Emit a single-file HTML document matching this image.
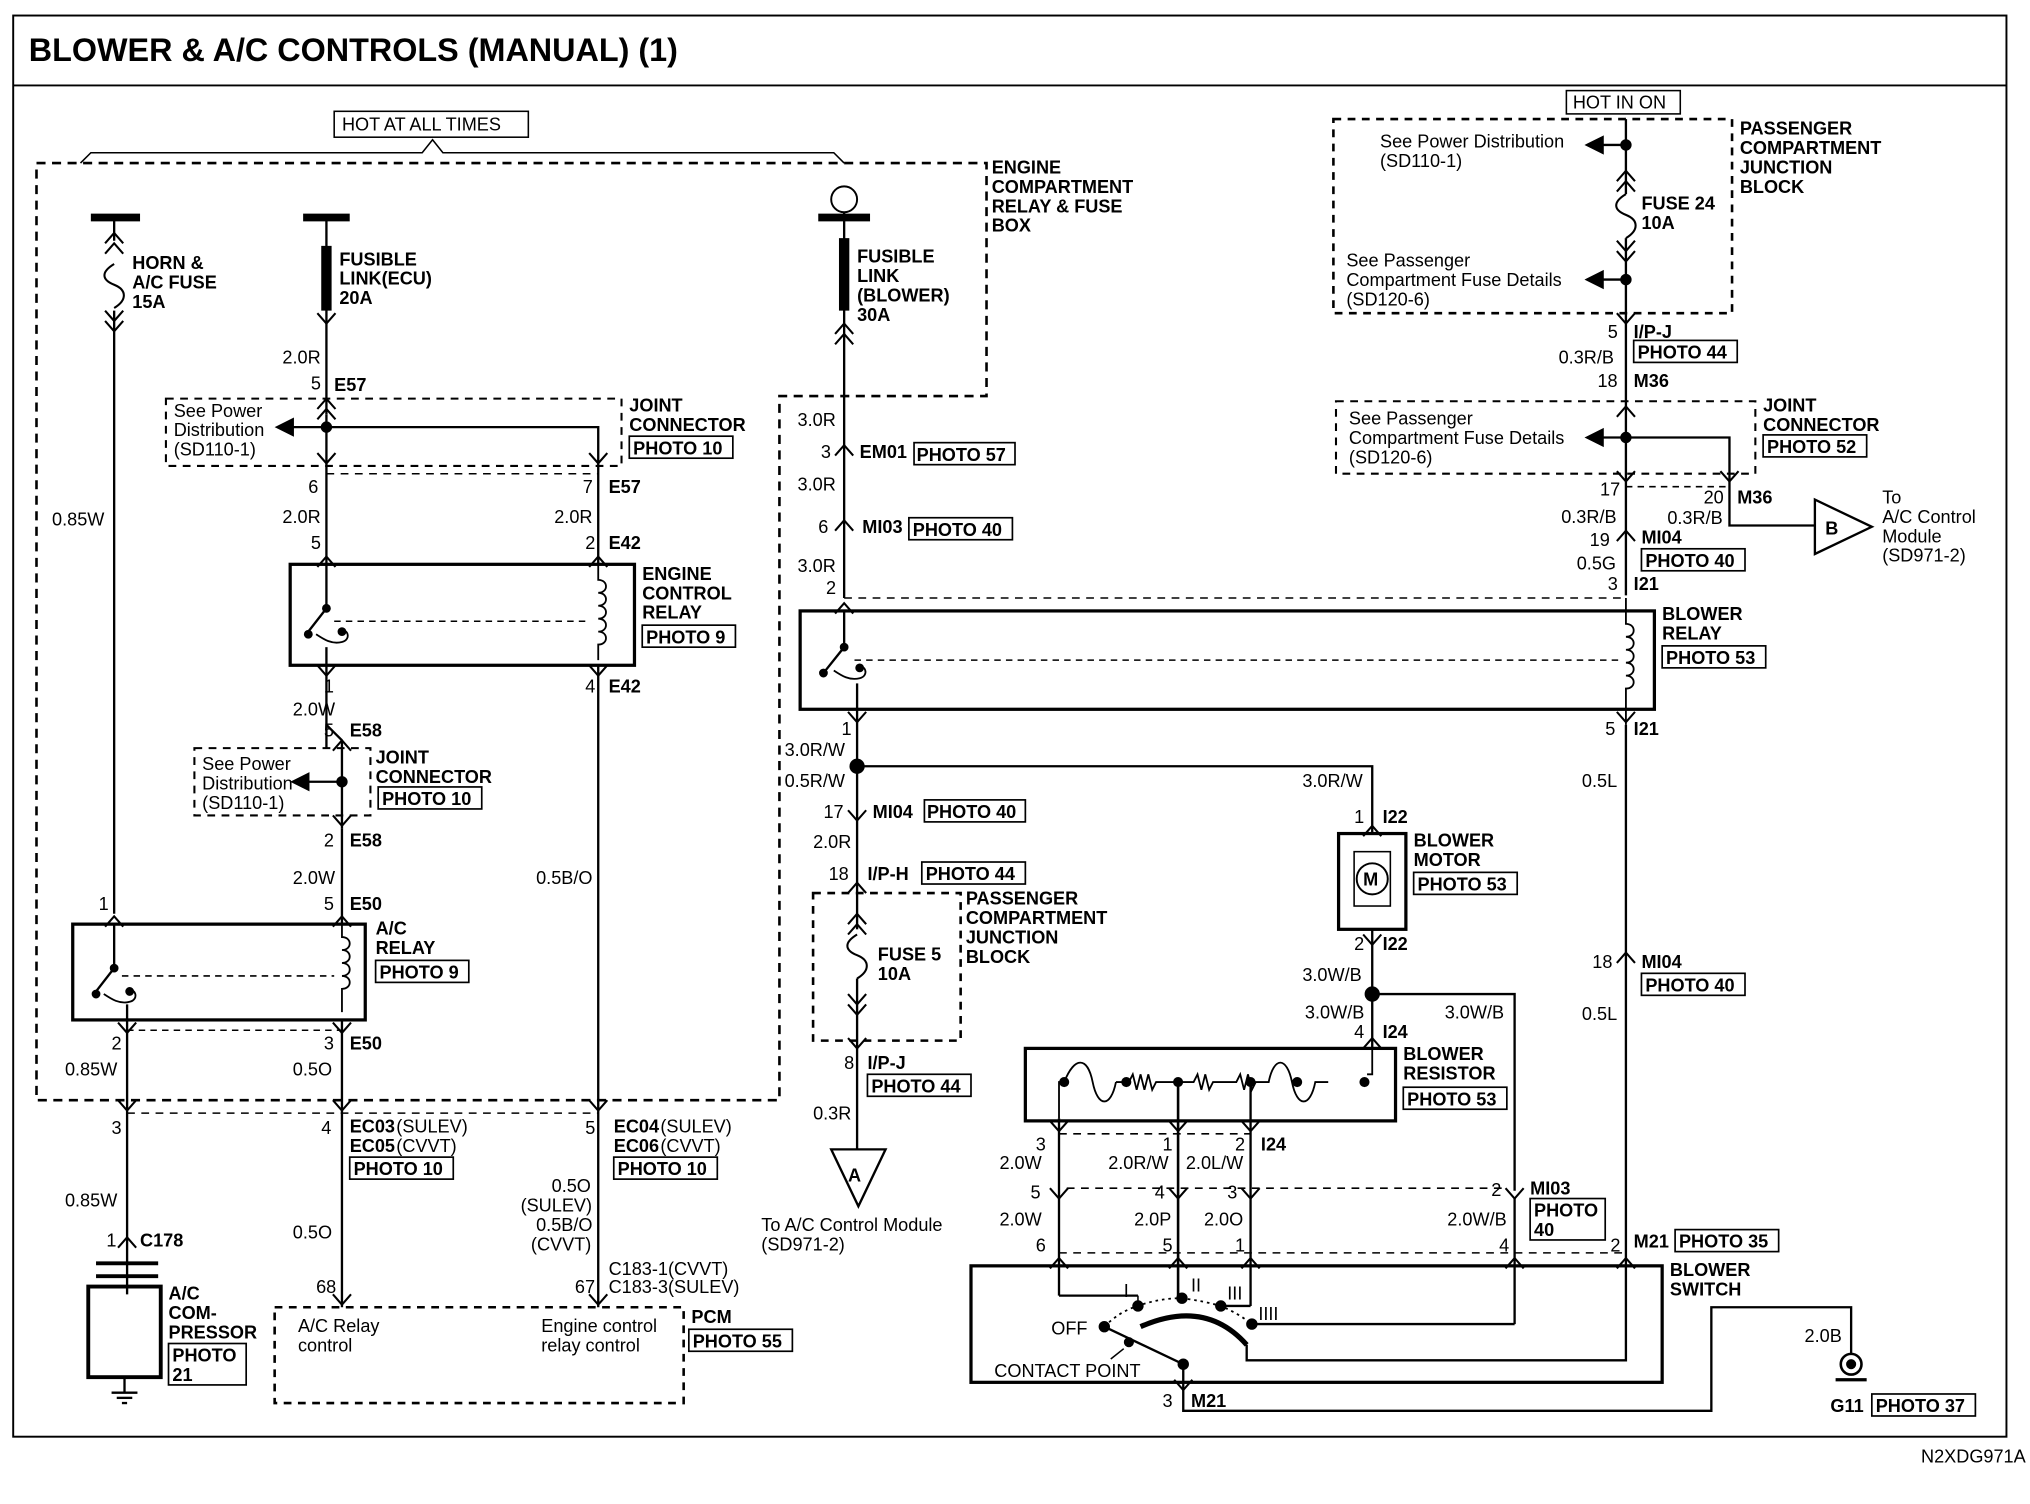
<!DOCTYPE html>
<html><head><meta charset="utf-8"><style>
html,body{margin:0;padding:0;background:#fff}
svg{display:block}
text{font-family:"Liberation Sans",Arial,sans-serif;font-size:14px;fill:#000}
.b{font-weight:bold}
.t{font-size:25px;font-weight:bold}
</style></head><body>
<svg width="2030" height="1504" viewBox="0 0 1568 1162" xmlns="http://www.w3.org/2000/svg">
<defs>
<path id="v" d="M-7,-8 L0,0 L7,-8" fill="none" stroke="#000" stroke-width="1.6"/>
<path id="a" d="M-7,8 L0,0 L7,8" fill="none" stroke="#000" stroke-width="1.6"/>
<path id="fz" d="M0,0 c-10,6 -10,12 0,16 c10,4 10,12 0,18" fill="none" stroke="#000" stroke-width="1.6"/>
</defs>
<g fill="none" stroke="#000" stroke-width="1.8">
<rect x="10" y="12" width="1540" height="1098" stroke-width="1.5"/>
<line x1="10" y1="66" x2="1550" y2="66" stroke-width="1.5"/>
<polyline points="62,126 70,118 326,118 334,108 342,118 644,118 652,126" stroke-width="1.2"/>
<polyline points="28,126 762,126 762,306 602,306 602,850 28,850 28,126" stroke-dasharray="7,5" stroke-width="2"/>
<line x1="70" y1="168" x2="108" y2="168" stroke-width="6"/>
<line x1="88" y1="168" x2="88" y2="186"/>
<use href="#a" x="88" y="180"/><use href="#a" x="88" y="188"/>
<use href="#fz" x="88" y="204"/>
<use href="#v" x="88" y="248"/><use href="#v" x="88" y="256"/>
<line x1="88" y1="240" x2="88" y2="706"/>
<line x1="234" y1="168" x2="270" y2="168" stroke-width="6"/>
<line x1="252" y1="168" x2="252" y2="320"/>
<line x1="252" y1="190" x2="252" y2="240" stroke-width="8"/>
<use href="#v" x="252" y="250"/>
<use href="#a" x="252" y="308"/><use href="#a" x="252" y="316"/>
<rect x="128" y="308" width="352" height="52" stroke-dasharray="6,5" stroke-width="1.6"/>
<polyline points="252,320 252,360"/>
<polyline points="222,330 462,330 462,360"/>
<polygon points="214,330 226,324 226,336" fill="#000"/>
<circle cx="252" cy="330" r="3.5" fill="#000"/>
<use href="#v" x="252" y="358"/><use href="#v" x="462" y="358"/>
<line x1="252" y1="366" x2="462" y2="366" stroke-dasharray="6,5" stroke-width="1.2"/>
<line x1="252" y1="360" x2="252" y2="436"/><line x1="462" y1="360" x2="462" y2="436"/>
<use href="#a" x="252" y="430"/><use href="#a" x="462" y="430"/>
<rect x="224" y="436" width="266" height="78" stroke-width="2.5"/>
<polyline points="252,436 252,470 238,488"/>
<path d="M262,488 c6,-4 10,6 2,8 c-8,2 -14,-2 -20,-6" stroke-width="1.4"/>
<circle cx="252" cy="470" r="2.5" fill="#000"/><circle cx="238" cy="490" r="2.5" fill="#000"/><circle cx="264" cy="488" r="2.5" fill="#000"/>
<line x1="258" y1="480" x2="456" y2="480" stroke-dasharray="5,4" stroke-width="1.2"/>
<path d="M462,436 v12 c8,0 8,10 0,10 c8,0 8,10 0,10 c8,0 8,10 0,10 c8,0 8,10 0,10 c8,0 8,10 0,10 v12" stroke-width="1.4"/>
<line x1="252" y1="500" x2="252" y2="514"/>
<use href="#v" x="252" y="522"/><use href="#v" x="462" y="522"/>
<line x1="252" y1="514" x2="252" y2="578"/>
<line x1="462" y1="514" x2="462" y2="850"/>
<use href="#a" x="264" y="572"/>
<rect x="150" y="578" width="136" height="52" stroke-dasharray="6,5" stroke-width="1.6"/>
<polyline points="264,572 264,640"/>
<line x1="236" y1="604" x2="264" y2="604"/>
<polygon points="226,604 238,598 238,610" fill="#000"/>
<circle cx="264" cy="604" r="3.5" fill="#000"/>
<use href="#v" x="264" y="638"/>
<line x1="252" y1="560" x2="264" y2="572"/>
<line x1="264" y1="640" x2="264" y2="714"/>
<use href="#a" x="264" y="708"/><use href="#a" x="88" y="708"/>
<rect x="56" y="714" width="226" height="74" stroke-width="2.5"/>
<polyline points="88,714 88,748 74,766"/>
<path d="M98,766 c6,-4 10,6 2,8 c-8,2 -14,-2 -20,-6" stroke-width="1.4"/>
<circle cx="88" cy="748" r="2.5" fill="#000"/><circle cx="74" cy="768" r="2.5" fill="#000"/><circle cx="100" cy="766" r="2.5" fill="#000"/>
<line x1="94" y1="754" x2="258" y2="754" stroke-dasharray="5,4" stroke-width="1.2"/>
<path d="M264,714 v10 c8,0 8,10 0,10 c8,0 8,10 0,10 c8,0 8,10 0,10 c8,0 8,10 0,10 v18" stroke-width="1.4"/>
<line x1="98" y1="776" x2="98" y2="1000"/>
<line x1="264" y1="788" x2="264" y2="1010"/>
<use href="#v" x="98" y="798"/><use href="#v" x="264" y="798"/>
<line x1="98" y1="796" x2="264" y2="796" stroke-dasharray="5,4" stroke-width="1.2"/>
<use href="#v" x="98" y="858"/><use href="#v" x="264" y="858"/><use href="#v" x="462" y="858"/>
<line x1="98" y1="860" x2="462" y2="860" stroke-dasharray="6,5" stroke-width="1.2"/>
<line x1="462" y1="850" x2="462" y2="1010"/>
<use href="#a" x="98" y="956"/>
<use href="#v" x="264" y="1008"/><use href="#v" x="462" y="1008"/>
<line x1="74" y1="976" x2="122" y2="976" stroke-width="3"/>
<line x1="74" y1="986" x2="122" y2="986" stroke-width="3"/>
<rect x="68" y="994" width="56" height="70" stroke-width="3"/>
<line x1="96" y1="1064" x2="96" y2="1076"/>
<line x1="86" y1="1076" x2="106" y2="1076"/><line x1="90" y1="1080" x2="102" y2="1080"/><line x1="94" y1="1084" x2="98" y2="1084"/>
<rect x="212" y="1010" width="316" height="74" stroke-dasharray="6,5" stroke-width="2"/>

<circle cx="652" cy="154" r="10" stroke-width="1.5"/>
<line x1="632" y1="168" x2="672" y2="168" stroke-width="6"/>
<line x1="652" y1="164" x2="652" y2="462"/>
<line x1="652" y1="184" x2="652" y2="240" stroke-width="8"/>
<use href="#a" x="652" y="250"/><use href="#a" x="652" y="258"/>
<use href="#a" x="652" y="344"/><use href="#a" x="652" y="402"/>
<use href="#a" x="652" y="466"/>
<line x1="652" y1="462" x2="1256" y2="462" stroke-dasharray="6,5" stroke-width="1.2"/>
<rect x="618" y="472" width="660" height="76" stroke-width="2.5"/>
<polyline points="652,472 652,500 636,520"/>
<path d="M662,516 c6,-4 10,6 2,8 c-8,2 -14,-2 -20,-6" stroke-width="1.4"/>
<circle cx="652" cy="500" r="2.5" fill="#000"/><circle cx="636" cy="520" r="2.5" fill="#000"/><circle cx="664" cy="516" r="2.5" fill="#000"/>
<line x1="660" y1="510" x2="1250" y2="510" stroke-dasharray="5,4" stroke-width="1.2"/>
<path d="M1256,462 v20 c8,0 8,10 0,10 c8,0 8,10 0,10 c8,0 8,10 0,10 c8,0 8,10 0,10 c8,0 8,10 0,10 v28" stroke-width="1.4"/>
<line x1="662" y1="528" x2="662" y2="548"/>
<use href="#v" x="662" y="558"/><use href="#v" x="1256" y="558"/>
<line x1="662" y1="548" x2="662" y2="690"/>
<polyline points="662,592 1060,592 1060,644"/>
<circle cx="662" cy="592" r="5" fill="#000"/>
<use href="#v" x="662" y="634"/><use href="#a" x="662" y="682"/>
<rect x="628" y="690" width="114" height="114" stroke-dasharray="6,5" stroke-width="2"/>
<line x1="662" y1="690" x2="662" y2="718"/>
<use href="#a" x="662" y="706"/><use href="#a" x="662" y="714"/>
<use href="#fz" x="662" y="722"/>
<line x1="662" y1="756" x2="662" y2="888"/>
<use href="#v" x="662" y="776"/><use href="#v" x="662" y="784"/>
<use href="#v" x="662" y="810"/>
<polygon points="642,888 684,888 663,932" stroke-width="1.8"/>
<use href="#a" x="1060" y="638"/>
<rect x="1034" y="644" width="52" height="74" stroke-width="2.5"/>
<rect x="1046" y="658" width="28" height="42" stroke-width="1.2"/>
<circle cx="1060" cy="679" r="12" stroke-width="1.5"/>
<line x1="1060" y1="718" x2="1060" y2="810"/>
<use href="#v" x="1060" y="730"/>
<polyline points="1060,768 1170,768 1170,920"/>
<circle cx="1060" cy="768" r="5" fill="#000"/>
<use href="#a" x="1060" y="802"/>
<rect x="792" y="810" width="286" height="56" stroke-width="2.5"/>
<path d="M1060,810 v20 h-4 M818,864 v-28 h4 M822,836 c8,-20 18,-20 22,0 c4,20 14,20 18,0 M862,836 h10 l3,-6 l3,12 l3,-12 l3,12 l3,-12 l3,12 l3,-6 h29 l3,-6 l3,12 l3,-12 l3,12 l3,-6 h18 l3,-6 l3,12 l3,-12 l3,12 l3,-6 h10 c4,-20 14,-20 18,0 c4,20 14,20 18,0 h10" stroke-width="1.4"/>
<circle cx="822" cy="836" r="3" fill="#000"/><circle cx="870" cy="836" r="3" fill="#000"/><circle cx="910" cy="836" r="3" fill="#000"/><circle cx="966" cy="836" r="3" fill="#000"/><circle cx="1002" cy="836" r="3" fill="#000"/><circle cx="1054" cy="836" r="3" fill="#000"/>
<line x1="910" y1="836" x2="910" y2="1003" stroke-width="2"/>
<line x1="966" y1="836" x2="966" y2="1009"/>
<line x1="818" y1="864" x2="818" y2="1001"/>
<use href="#v" x="818" y="874"/><use href="#v" x="910" y="874"/><use href="#v" x="966" y="874"/>
<line x1="818" y1="876" x2="966" y2="876" stroke-dasharray="6,5" stroke-width="1.2"/>
<use href="#v" x="818" y="926"/><use href="#v" x="910" y="926"/><use href="#v" x="966" y="926"/><use href="#v" x="1170" y="926"/>
<line x1="824" y1="918" x2="1164" y2="918" stroke-dasharray="6,5" stroke-width="1.2"/>
<line x1="1170" y1="926" x2="1170" y2="1023"/>
<line x1="818" y1="968" x2="1256" y2="968" stroke-dasharray="6,5" stroke-width="1.2"/>
<use href="#a" x="818" y="972"/><use href="#a" x="910" y="972"/><use href="#a" x="966" y="972"/><use href="#a" x="1170" y="972"/><use href="#a" x="1256" y="972"/>
<!-- blower switch -->
<rect x="750" y="978" width="534" height="90" stroke-width="2.5"/>
<polyline points="818,1001 879,1001"/>
<polyline points="966,1009 943,1009"/>
<polyline points="967,1023 1170,1023"/>
<polyline points="1256,560 1256,1051 963,1051 963,1039"/>
<path d="M881,1025 q50,-22 82,14" stroke-width="4"/>
<path d="M853,1025 q12,-12 26,-16 q16,-6 34,-6 q16,2 30,6 q14,6 24,14" stroke-dasharray="2,3" stroke-width="1.4"/>
<circle cx="879" cy="1009" r="3.5" fill="#000"/><circle cx="913" cy="1003" r="3.5" fill="#000"/><circle cx="943" cy="1009" r="3.5" fill="#000"/><circle cx="967" cy="1023" r="3.5" fill="#000"/><circle cx="853" cy="1025" r="3.5" fill="#000"/><circle cx="872" cy="1037" r="3" fill="#000"/><circle cx="914" cy="1054" r="3.5" fill="#000"/>
<line x1="879" y1="1001" x2="879" y2="1009" stroke-width="1.2"/>
<polyline points="853,1025 914,1054 914,1090 1322,1090 1322,1010 1430,1010 1430,1046"/>
<line x1="868" y1="1042" x2="858" y2="1050" stroke-width="1.2"/>
<use href="#v" x="914" y="1074"/>
<circle cx="1430" cy="1054" r="8" stroke-width="2"/><circle cx="1430" cy="1054" r="3" fill="#000"/>
<line x1="1418" y1="1066" x2="1442" y2="1066" stroke-width="2.5"/>

<rect x="1030" y="92" width="308" height="150" stroke-dasharray="6,5" stroke-width="2"/>
<line x1="1256" y1="92" x2="1256" y2="150"/>
<line x1="1236" y1="112" x2="1256" y2="112"/>
<polygon points="1226,112 1238,106 1238,118" fill="#000"/>
<circle cx="1256" cy="112" r="3.5" fill="#000"/>
<use href="#a" x="1256" y="132"/><use href="#a" x="1256" y="140"/>
<use href="#fz" x="1256" y="150"/>
<line x1="1256" y1="184" x2="1256" y2="460"/>
<use href="#v" x="1256" y="194"/><use href="#v" x="1256" y="202"/>
<line x1="1236" y1="216" x2="1256" y2="216"/>
<polygon points="1226,216 1238,210 1238,222" fill="#000"/>
<circle cx="1256" cy="216" r="3.5" fill="#000"/>
<use href="#v" x="1256" y="250"/>
<rect x="1032" y="310" width="324" height="56" stroke-dasharray="6,5" stroke-width="1.6"/>
<use href="#a" x="1256" y="314"/>
<line x1="1236" y1="338" x2="1256" y2="338"/>
<polygon points="1226,338 1238,332 1238,344" fill="#000"/>
<polyline points="1256,338 1336,338 1336,406 1402,406"/>
<circle cx="1256" cy="338" r="3.5" fill="#000"/>
<use href="#v" x="1256" y="372"/><use href="#v" x="1336" y="372"/>
<line x1="1256" y1="376" x2="1336" y2="376" stroke-dasharray="5,4" stroke-width="1.2"/>
<polygon points="1402,386 1402,428 1446,407" stroke-width="1.8"/>
<use href="#a" x="1256" y="410"/>
<use href="#a" x="1256" y="736"/>
</g>

<text x="22" y="47" class="t">BLOWER &amp; A/C CONTROLS (MANUAL) (1)</text>
<rect x="258" y="86" width="150" height="20" fill="none" stroke="#000" stroke-width="1.2"/>
<text x="264" y="101">HOT AT ALL TIMES</text>
<rect x="1210" y="70" width="88" height="18" fill="none" stroke="#000" stroke-width="1.2"/>
<text x="1215" y="84">HOT IN ON</text>
<g class="b">
<text x="102" y="208">HORN &amp;</text><text x="102" y="223">A/C FUSE</text><text x="102" y="238">15A</text>
<text x="262" y="205">FUSIBLE</text><text x="262" y="220">LINK(ECU)</text><text x="262" y="235">20A</text>
<text x="766" y="134">ENGINE</text><text x="766" y="149">COMPARTMENT</text><text x="766" y="164">RELAY &amp; FUSE</text><text x="766" y="179">BOX</text>
<text x="662" y="203">FUSIBLE</text><text x="662" y="218">LINK</text><text x="662" y="233">(BLOWER)</text><text x="662" y="248">30A</text>
<text x="486" y="318">JOINT</text><text x="486" y="333">CONNECTOR</text>
<text x="496" y="448">ENGINE</text><text x="496" y="463">CONTROL</text><text x="496" y="478">RELAY</text>
<text x="290" y="590">JOINT</text><text x="290" y="605">CONNECTOR</text>
<text x="290" y="722">A/C</text><text x="290" y="737">RELAY</text>
<text x="130" y="1004">A/C</text><text x="130" y="1019">COM-</text><text x="130" y="1034">PRESSOR</text>
<text x="534" y="1022">PCM</text>
<text x="678" y="742">FUSE 5</text><text x="678" y="757">10A</text>
<text x="746" y="699">PASSENGER</text><text x="746" y="714">COMPARTMENT</text><text x="746" y="729">JUNCTION</text><text x="746" y="744">BLOCK</text>
<text x="1092" y="654">BLOWER</text><text x="1092" y="669">MOTOR</text>
<text x="1084" y="819">BLOWER</text><text x="1084" y="834">RESISTOR</text>
<text x="1290" y="986">BLOWER</text><text x="1290" y="1001">SWITCH</text>
<text x="1284" y="479">BLOWER</text><text x="1284" y="494">RELAY</text>
<text x="1344" y="104">PASSENGER</text><text x="1344" y="119">COMPARTMENT</text><text x="1344" y="134">JUNCTION</text><text x="1344" y="149">BLOCK</text>
<text x="1268" y="162">FUSE 24</text><text x="1268" y="177">10A</text>
<text x="1362" y="318">JOINT</text><text x="1362" y="333">CONNECTOR</text>
<text x="1410" y="413" font-size="15">B</text><text x="655" y="913" font-size="15">A</text>
<text x="1053" y="684" font-size="13">M</text>
<text x="258" y="302">E57</text><text x="470" y="381">E57</text><text x="470" y="424">E42</text><text x="470" y="535">E42</text>
<text x="270" y="569">E58</text><text x="270" y="654">E58</text><text x="270" y="703">E50</text><text x="270" y="811">E50</text>
<text x="270" y="875">EC03</text><text x="270" y="890">EC05</text><text x="474" y="875">EC04</text><text x="474" y="890">EC06</text>
<text x="108" y="963">C178</text>
<text x="664" y="354">EM01</text><text x="666" y="412">MI03</text><text x="674" y="632">MI04</text><text x="670" y="680">I/P-H</text><text x="670" y="826">I/P-J</text>
<text x="1068" y="636">I22</text><text x="1068" y="734">I22</text><text x="1068" y="802">I24</text><text x="974" y="889">I24</text>
<text x="1182" y="923">MI03</text><text x="1262" y="964">M21</text><text x="920" y="1087">M21</text><text x="1414" y="1091">G11</text>
<text x="1262" y="261">I/P-J</text><text x="1262" y="299">M36</text><text x="1342" y="389">M36</text><text x="1268" y="420">MI04</text><text x="1262" y="456">I21</text><text x="1262" y="568">I21</text><text x="1268" y="748">MI04</text>
</g>
<g>
<text x="306" y="875">(SULEV)</text><text x="306" y="890">(CVVT)</text><text x="510" y="875">(SULEV)</text><text x="510" y="890">(CVVT)</text>
<text x="134" y="322">See Power</text><text x="134" y="337">Distribution</text><text x="134" y="352">(SD110-1)</text>
<text x="156" y="595">See Power</text><text x="156" y="610">Distribution</text><text x="156" y="625">(SD110-1)</text>
<text x="1066" y="114">See Power Distribution</text><text x="1066" y="129">(SD110-1)</text>
<text x="1040" y="206">See Passenger</text><text x="1040" y="221">Compartment Fuse Details</text><text x="1040" y="236">(SD120-6)</text>
<text x="1042" y="328">See Passenger</text><text x="1042" y="343">Compartment Fuse Details</text><text x="1042" y="358">(SD120-6)</text>
<text x="1454" y="389">To</text><text x="1454" y="404">A/C Control</text><text x="1454" y="419">Module</text><text x="1454" y="434">(SD971-2)</text>
<text x="588" y="951">To A/C Control Module</text><text x="588" y="966">(SD971-2)</text>
<text x="230" y="1029">A/C Relay</text><text x="230" y="1044">control</text>
<text x="418" y="1029">Engine control</text><text x="418" y="1044">relay control</text>
<text x="768" y="1064">CONTACT POINT</text><text x="812" y="1031">OFF</text>
<text x="868" y="1002" font-size="12">I</text><text x="920" y="998" font-size="12">II</text><text x="948" y="1004" font-size="12">III</text><text x="972" y="1020" font-size="12">IIII</text>
<text x="40" y="406">0.85W</text><text x="218" y="281">2.0R</text><text x="240" y="301">5</text>
<text x="238" y="381">6</text><text x="450" y="381">7</text><text x="218" y="404">2.0R</text><text x="428" y="404">2.0R</text>
<text x="240" y="424">5</text><text x="452" y="424">2</text><text x="250" y="535">1</text><text x="452" y="535">4</text>
<text x="226" y="553">2.0W</text><text x="250" y="569">5</text><text x="250" y="654">2</text><text x="226" y="683">2.0W</text>
<text x="250" y="703">5</text><text x="76" y="703">1</text><text x="414" y="683">0.5B/O</text>
<text x="86" y="811">2</text><text x="250" y="811">3</text><text x="50" y="831">0.85W</text><text x="226" y="831">0.5O</text>
<text x="86" y="876">3</text><text x="248" y="876">4</text><text x="452" y="876">5</text>
<text x="50" y="932">0.85W</text><text x="82" y="963">1</text><text x="226" y="957">0.5O</text>
<text x="426" y="921">0.5O</text><text x="402" y="936">(SULEV)</text><text x="414" y="951">0.5B/O</text><text x="410" y="966">(CVVT)</text>
<text x="244" y="999">68</text><text x="444" y="999">67</text><text x="470" y="985">C183-1(CVVT)</text><text x="470" y="999">C183-3(SULEV)</text>
<text x="616" y="329">3.0R</text><text x="634" y="354">3</text><text x="616" y="379">3.0R</text><text x="632" y="412">6</text><text x="616" y="442">3.0R</text><text x="638" y="459">2</text>
<text x="650" y="568">1</text><text x="606" y="584">3.0R/W</text><text x="606" y="608">0.5R/W</text><text x="1006" y="608">3.0R/W</text>
<text x="636" y="632">17</text><text x="628" y="655">2.0R</text><text x="640" y="680">18</text><text x="652" y="826">8</text><text x="628" y="865">0.3R</text>
<text x="1046" y="636">1</text><text x="1046" y="734">2</text><text x="1006" y="758">3.0W/B</text><text x="1008" y="787">3.0W/B</text><text x="1116" y="787">3.0W/B</text><text x="1046" y="802">4</text>
<text x="800" y="889">3</text><text x="898" y="889">1</text><text x="954" y="889">2</text>
<text x="772" y="903">2.0W</text><text x="856" y="903">2.0R/W</text><text x="916" y="903">2.0L/W</text>
<text x="796" y="926">5</text><text x="892" y="926">4</text><text x="948" y="926">3</text><text x="1152" y="924">2</text>
<text x="772" y="947">2.0W</text><text x="876" y="947">2.0P</text><text x="930" y="947">2.0O</text><text x="1118" y="947">2.0W/B</text>
<text x="800" y="967">6</text><text x="898" y="967">5</text><text x="954" y="967">1</text><text x="1158" y="967">4</text><text x="1244" y="967">2</text>
<text x="898" y="1087">3</text><text x="1394" y="1037">2.0B</text>
<text x="1242" y="261">5</text><text x="1204" y="281">0.3R/B</text><text x="1234" y="299">18</text>
<text x="1236" y="383">17</text><text x="1316" y="389">20</text><text x="1206" y="404">0.3R/B</text><text x="1288" y="405">0.3R/B</text>
<text x="1228" y="422">19</text><text x="1218" y="440">0.5G</text><text x="1242" y="456">3</text>
<text x="1240" y="568">5</text><text x="1222" y="608">0.5L</text><text x="1230" y="748">18</text><text x="1222" y="788">0.5L</text>
<text x="1484" y="1130" font-size="12">N2XDG971A</text>
</g>
<g fill="none" stroke="#000" stroke-width="1.3">
<rect x="486" y="337" width="80" height="17"/><rect x="496" y="483" width="72" height="17"/>
<rect x="292" y="608" width="80" height="17"/><rect x="290" y="742" width="72" height="17"/>
<rect x="270" y="894" width="80" height="17"/><rect x="474" y="894" width="80" height="17"/>
<rect x="130" y="1038" width="60" height="32"/><rect x="532" y="1027" width="80" height="17"/>
<rect x="706" y="342" width="78" height="17"/><rect x="702" y="400" width="80" height="17"/>
<rect x="714" y="618" width="78" height="17"/><rect x="712" y="666" width="80" height="17"/>
<rect x="670" y="830" width="80" height="17"/><rect x="1092" y="674" width="80" height="17"/>
<rect x="1084" y="840" width="80" height="17"/><rect x="1182" y="926" width="58" height="32"/>
<rect x="1294" y="950" width="80" height="17"/><rect x="1446" y="1077" width="80" height="17"/>
<rect x="1284" y="499" width="80" height="17"/><rect x="1262" y="263" width="80" height="17"/>
<rect x="1362" y="336" width="80" height="17"/><rect x="1268" y="424" width="80" height="17"/>
<rect x="1268" y="752" width="80" height="17"/>
</g>
<g class="b">
<text x="489" y="351">PHOTO 10</text><text x="499" y="497">PHOTO 9</text>
<text x="295" y="622">PHOTO 10</text><text x="293" y="756">PHOTO 9</text>
<text x="273" y="908">PHOTO 10</text><text x="477" y="908">PHOTO 10</text>
<text x="133" y="1052">PHOTO</text><text x="133" y="1067">21</text><text x="535" y="1041">PHOTO 55</text>
<text x="708" y="356">PHOTO 57</text><text x="705" y="414">PHOTO 40</text>
<text x="716" y="632">PHOTO 40</text><text x="715" y="680">PHOTO 44</text>
<text x="673" y="844">PHOTO 44</text><text x="1095" y="688">PHOTO 53</text>
<text x="1087" y="854">PHOTO 53</text><text x="1185" y="940">PHOTO</text><text x="1185" y="955">40</text>
<text x="1297" y="964">PHOTO 35</text><text x="1449" y="1091">PHOTO 37</text>
<text x="1287" y="513">PHOTO 53</text><text x="1265" y="277">PHOTO 44</text>
<text x="1365" y="350">PHOTO 52</text><text x="1271" y="438">PHOTO 40</text>
<text x="1271" y="766">PHOTO 40</text>
</g>
</svg>
</body></html>
